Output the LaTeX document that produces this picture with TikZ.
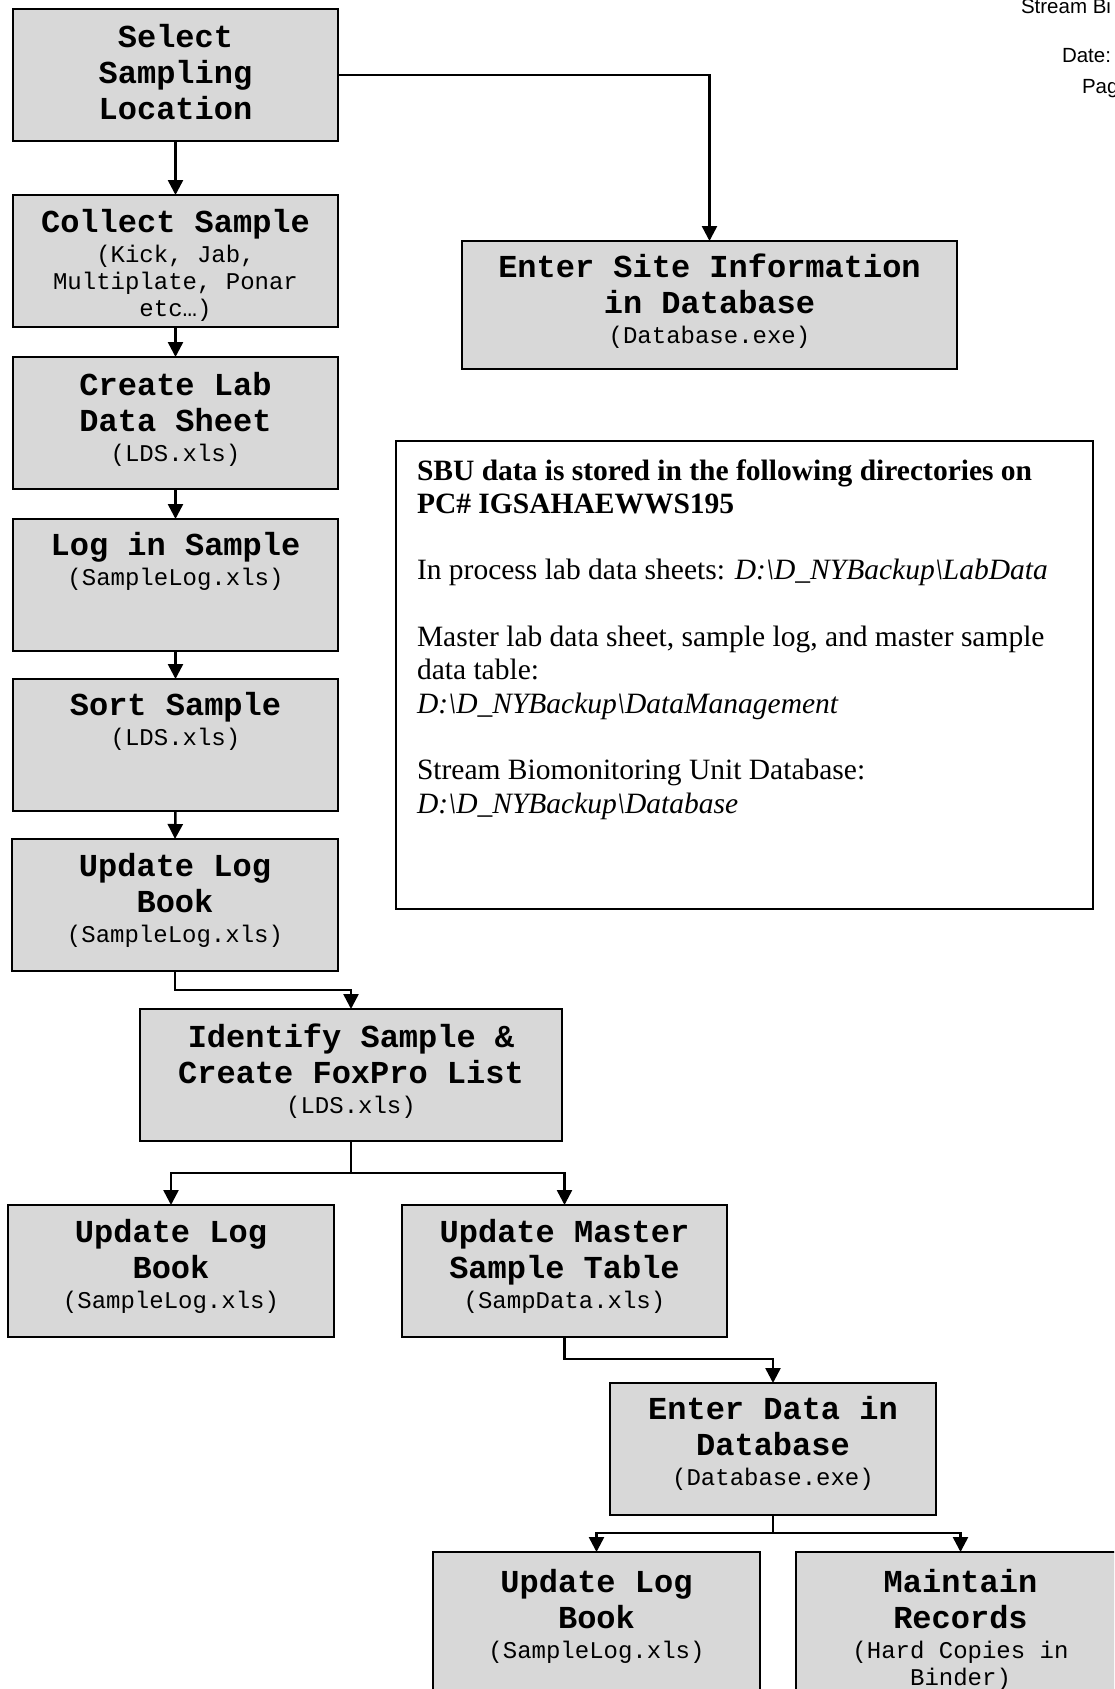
\documentclass[tikz,border=0pt]{standalone}
\usepackage{fontspec}
\usetikzlibrary{arrows.meta}
\newfontfamily\monof{Liberation Mono}
\newfontfamily\serf{Liberation Serif}
\newfontfamily\sansf{Liberation Sans}
\definecolor{boxgray}{RGB}{216,216,216}
\newcommand\Tf{\monof\bfseries\fontsize{32}{36}\selectfont}
\newcommand\Sf{\monof\mdseries\fontsize{24}{27}\selectfont}
\newcommand\tsb{\cr\noalign{\vskip-6pt}\Sf}
\newcommand\ssb{\cr\noalign{\vskip-9pt}\Sf}
\newcommand\lns[1]{\vtop{\Tf\baselineskip=36pt\lineskiplimit=-100pt\halign{\hfil##\hfil\cr#1\crcr}}}
\newcommand\bsl{\textbackslash}
\newcommand\sbutxt{\vtop{\serf\fontsize{29.5}{33.3}\selectfont\lineskiplimit=-100pt\halign{##\hfil\cr
\bfseries SBU data is stored in the following directories on\cr
\bfseries PC\# IGSAHAEWWS195\cr
\cr
In process lab data sheets: \itshape D:\bsl D\_NYBackup\bsl LabData\cr
\cr
Master lab data sheet, sample log, and master sample\cr
data table:\cr
\itshape D:\bsl D\_NYBackup\bsl DataManagement\cr
\cr
Stream Biomonitoring Unit Database:\cr
\itshape D:\bsl D\_NYBackup\bsl Database\crcr}}}
\tikzset{
  pbox/.style 2 args={draw=black, line width=2pt, fill=boxgray, inner sep=0pt, outer sep=0pt,
    minimum width=#1, minimum height=#2, anchor=north west},
  nbox/.style 2 args={draw=black, line width=2pt, fill=white, inner sep=0pt, outer sep=0pt,
    minimum width=#1, minimum height=#2, anchor=north west},
  ttext/.style={inner sep=0pt, outer sep=0pt, anchor=base},
  hdr/.style={inner sep=0pt, outer sep=0pt, anchor=base west, font=\sansf\fontsize{20.5}{24}\selectfont},
  conn/.style={line width=2.5pt, -{Triangle[length=15pt,width=15pt]}}
}
\begin{document}
\begin{tikzpicture}[x=1pt,y=-1pt]
\useasboundingbox (0,0) rectangle (1114,1689);
\clip (0,0) rectangle (1114,1689);
% header
\node[hdr] (h1) at (1021,13) {Stream Bi};
\node[hdr] (h2) at (1062,62) {Date:};
\node[hdr] (h3) at (1082,93) {Pag};
% boxes
\node[pbox={325pt}{132pt}] (sel) at (13,9) {};
\node[pbox={325pt}{132pt}] (col) at (13,195) {};
\node[pbox={325pt}{132pt}] (lab) at (13,357) {};
\node[pbox={325pt}{132pt}] (log) at (13,519) {};
\node[pbox={325pt}{132pt}] (sort) at (13,679) {};
\node[pbox={326pt}{132pt}] (upd1) at (12,839) {};
\node[pbox={495pt}{128pt}] (site) at (462,241) {};
\node[nbox={697pt}{468pt}] (sbu) at (396,441) {};
\node[pbox={422pt}{132pt}] (ident) at (140,1009) {};
\node[pbox={326pt}{132pt}] (upd2) at (8,1205) {};
\node[pbox={325pt}{132pt}] (master) at (402,1205) {};
\node[pbox={326pt}{132pt}] (data) at (610,1383) {};
\node[pbox={327pt}{150pt}] (upd3) at (433,1552) {};
\node[pbox={329pt}{150pt}] (maint) at (796,1552) {};
% texts
\node[ttext] (selt) at (175.5,47) {\lns{Select\cr Sampling\cr Location}};
\node[ttext] (colt) at (175.5,232) {\lns{Collect Sample\tsb(Kick, Jab,\ssb Multiplate, Ponar\ssb etc…)}};
\node[ttext] (labt) at (175.5,395) {\lns{Create Lab\cr Data Sheet\tsb(LDS.xls)}};
\node[ttext] (logt) at (175.5,555) {\lns{Log in Sample\tsb(SampleLog.xls)}};
\node[ttext] (sortt) at (175.5,715) {\lns{Sort Sample\tsb(LDS.xls)}};
\node[ttext] (upd1t) at (175,876) {\lns{Update Log\cr Book\tsb(SampleLog.xls)}};
\node[ttext] (sitet) at (709.5,277) {\lns{Enter Site Information\cr in Database\tsb(Database.exe)}};
\node[ttext, anchor=base west] (sbut) at (417,480) {\sbutxt};
\node[ttext] (identt) at (351,1047) {\lns{Identify Sample \&\cr Create FoxPro List\tsb(LDS.xls)}};
\node[ttext] (upd2t) at (171,1242) {\lns{Update Log\cr Book\tsb(SampleLog.xls)}};
\node[ttext] (mastert) at (564.5,1242) {\lns{Update Master\cr Sample Table\tsb(SampData.xls)}};
\node[ttext] (datat) at (773,1419) {\lns{Enter Data in\cr Database\tsb(Database.exe)}};
\node[ttext] (upd3t) at (596.5,1592) {\lns{Update Log\cr Book\tsb(SampleLog.xls)}};
\node[ttext] (maintt) at (960.5,1592) {\lns{Maintain\cr Records\tsb(Hard Copies in\ssb Binder)}};
% connectors
\draw[conn] (sel.south) -- (col.north);
\draw[conn] (sel.east) -| (site.north);
\draw[conn] (col.south) -- (lab.north);
\draw[conn] (lab.south) -- (log.north);
\draw[conn] (log.south) -- (sort.north);
\draw[conn] (sort.south) -- (upd1.north);
\draw[conn] (upd1.south) -- ++(0,19) -| (ident.north);
\draw[conn] (ident.south) -- ++(0,32) -| (upd2.north);
\draw[conn] (ident.south) -- ++(0,32) -| (master.north);
\draw[conn] (master.south) -- ++(0,22) -| (data.north);
\draw[conn] (data.south) -- ++(0,18) -| (upd3.north);
\draw[conn] (data.south) -- ++(0,18) -| (maint.north);
\end{tikzpicture}
\end{document}
